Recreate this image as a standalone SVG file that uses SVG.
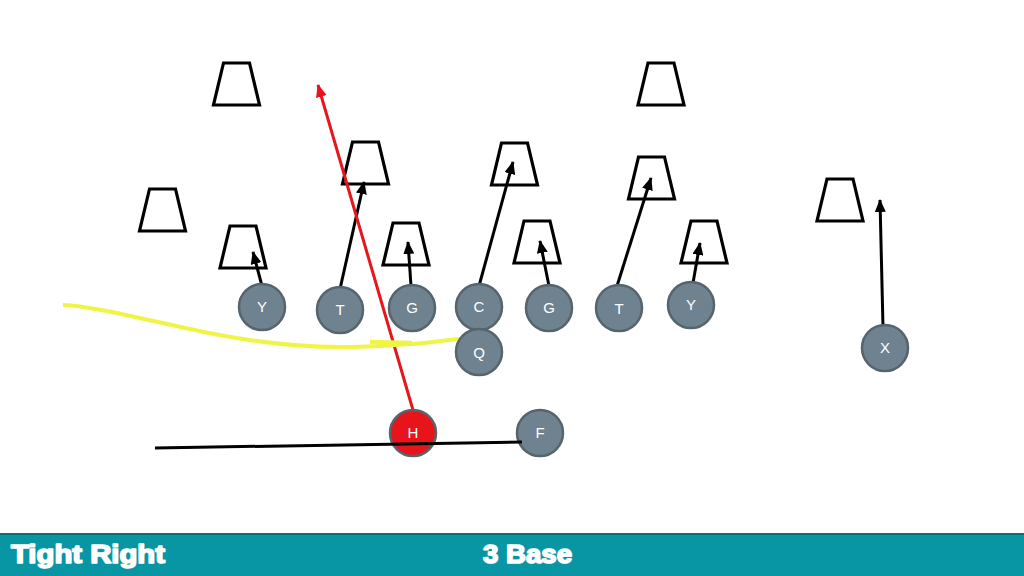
<svg xmlns="http://www.w3.org/2000/svg" width="1024" height="576" viewBox="0 0 1024 576">
<style>
.def{fill:none;stroke:#000;stroke-width:3.2;stroke-linejoin:miter}
.pl{fill:#6e8290;stroke:#56646e;stroke-width:2.5}
.hb{fill:#e8141b;stroke:#56646e;stroke-width:2.5}
.lb{fill:#fff;font-family:"Liberation Sans",Arial,sans-serif;font-size:15px;text-anchor:middle}
.rt{stroke:#000;stroke-width:3;fill:none}
.ti{fill:#fff;font-family:"Liberation Sans",Arial,sans-serif;font-weight:bold;font-size:25px;stroke:#fff;stroke-width:1.6;stroke-linejoin:round}
</style>
<defs>
<marker id="ah" markerUnits="userSpaceOnUse" markerWidth="13" markerHeight="11" refX="12" refY="5.5" orient="auto">
<path d="M0,0 L13,5.5 L0,11 z" fill="#000"/>
</marker>
<marker id="ahr" markerUnits="userSpaceOnUse" markerWidth="13" markerHeight="11" refX="12" refY="5.5" orient="auto">
<path d="M0,0 L13,5.5 L0,11 z" fill="#e8141b"/>
</marker>
<polygon id="trap" points="-13,0 13,0 23,42 -23,42"/>
</defs>
<rect width="1024" height="576" fill="#fff"/>
<g id="defenders">
<use href="#trap" class="def" x="236.5" y="63"/>
<use href="#trap" class="def" x="661" y="63"/>
<use href="#trap" class="def" x="365.5" y="142"/>
<use href="#trap" class="def" x="162.5" y="189"/>
<use href="#trap" class="def" x="243" y="226"/>
<use href="#trap" class="def" x="406" y="223"/>
<use href="#trap" class="def" x="514.5" y="143"/>
<use href="#trap" class="def" x="537" y="221"/>
<use href="#trap" class="def" x="651.5" y="157"/>
<use href="#trap" class="def" x="704" y="221"/>
<use href="#trap" class="def" x="840" y="179"/>
</g>
<g id="connectors">
<line class="rt" x1="262" y1="286" x2="253" y2="252" marker-end="url(#ah)"/>
<line class="rt" x1="340" y1="289" x2="364" y2="182" marker-end="url(#ah)"/>
<line class="rt" x1="411" y1="286" x2="408" y2="242" marker-end="url(#ah)"/>
<line class="rt" x1="479" y1="286" x2="513" y2="162" marker-end="url(#ah)"/>
<line class="rt" x1="549" y1="286" x2="540" y2="241" marker-end="url(#ah)"/>
<line class="rt" x1="617" y1="286" x2="651" y2="178" marker-end="url(#ah)"/>
<line class="rt" x1="693" y1="283" x2="700" y2="243" marker-end="url(#ah)"/>
<line class="rt" x1="883" y1="327" x2="880" y2="200" marker-end="url(#ah)"/>
<line x1="413" y1="410" x2="318" y2="85" stroke="#e5161c" stroke-width="3" marker-end="url(#ahr)"/>
<path d="M63,305 C90,306 130,316 190,329 C240,340 290,347 340,347 C380,347 400,344 413,344 C430,343 445,340 460,339" fill="none" stroke="#f0f545" stroke-width="4"/>
<path d="M370,342 L412,343" stroke="#f0f545" stroke-width="4.5" fill="none"/>
</g>
<g id="Y1"><circle class="pl" cx="262" cy="307" r="23"/><text class="lb" x="262" y="312">Y</text></g>
<g id="T1"><circle class="pl" cx="340" cy="310" r="23"/><text class="lb" x="340" y="315">T</text></g>
<g id="G1"><circle class="pl" cx="412" cy="308" r="23"/><text class="lb" x="412" y="313">G</text></g>
<g id="C"><circle class="pl" cx="479" cy="307" r="23"/><text class="lb" x="479" y="312">C</text></g>
<g id="Q"><circle class="pl" cx="479" cy="352" r="23"/><text class="lb" x="479" y="358">Q</text></g>
<g id="G2"><circle class="pl" cx="549" cy="308" r="23"/><text class="lb" x="549" y="313">G</text></g>
<g id="T2"><circle class="pl" cx="619" cy="308" r="23"/><text class="lb" x="619" y="314">T</text></g>
<g id="Y2"><circle class="pl" cx="691" cy="305" r="23"/><text class="lb" x="691" y="310">Y</text></g>
<g id="X"><circle class="pl" cx="885" cy="348" r="23"/><text class="lb" x="885" y="353">X</text></g>
<g id="H"><circle class="hb" cx="413" cy="433" r="23"/><text class="lb" x="413" y="438">H</text></g>
<g id="F"><circle class="pl" cx="540" cy="433" r="23"/><text class="lb" x="540" y="438">F</text></g>
<g id="motion"><line x1="155" y1="448" x2="522" y2="442" stroke="#000" stroke-width="3"/></g>
<g id="banner">
<rect x="0" y="533" width="1024" height="43" fill="#0996a4"/>
<line x1="0" y1="534" x2="1024" y2="534" stroke="#0b6f7a" stroke-width="2"/>
<text class="ti" x="11" y="563" textLength="154" lengthAdjust="spacingAndGlyphs">Tight Right</text>
<text class="ti" x="483" y="563" textLength="89" lengthAdjust="spacingAndGlyphs">3 Base</text>
</g>
</svg>
